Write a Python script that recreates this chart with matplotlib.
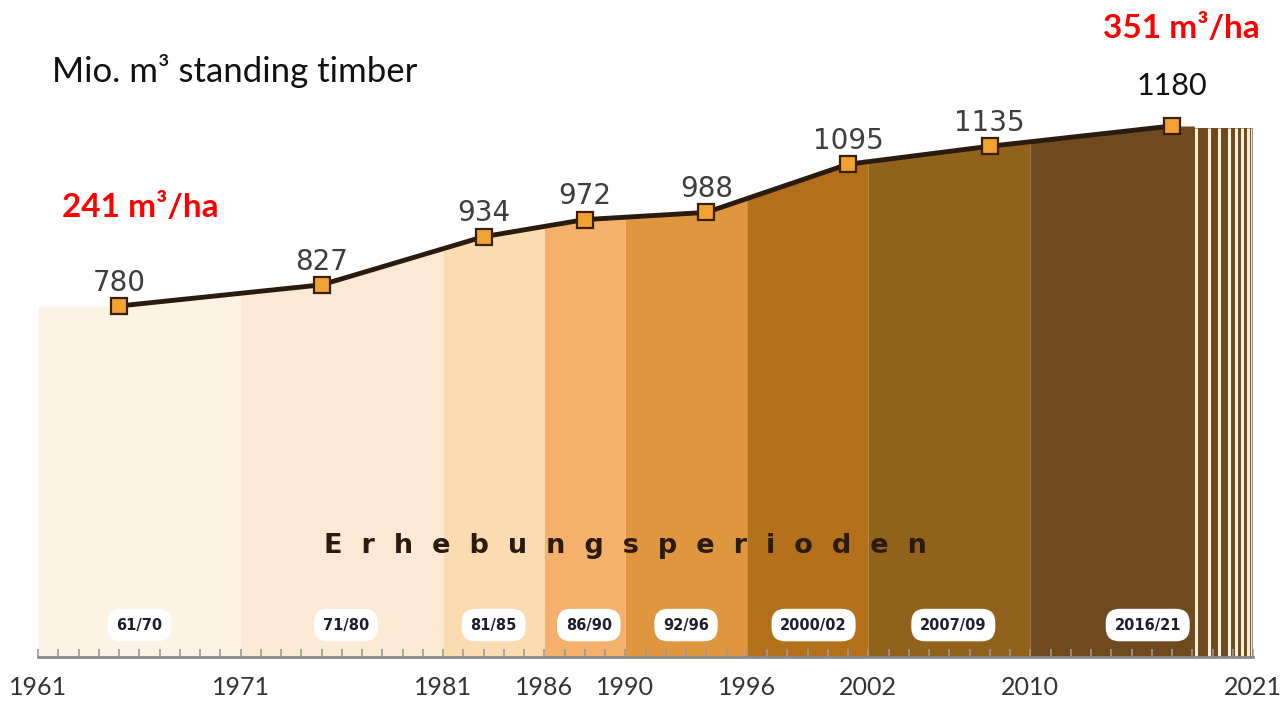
import numpy as np
import matplotlib
matplotlib.use("Agg")
import matplotlib.pyplot as plt

# ---------------- data ----------------
survey_years = [1965, 1975, 1983, 1988, 1994, 2001, 2008, 2017]
volumes = [780, 827, 934, 972, 988, 1095, 1135, 1180]

band_edges = [1961, 1971, 1981, 1986, 1990, 1996, 2002, 2010, 2018.1]
band_colors = ["#FDF3E5", "#FCE9D3", "#FBDCB1", "#F5B16C", "#E0963F",
               "#B46F1B", "#916219", "#6F4A1F"]
period_labels = ["61/70", "71/80", "81/85", "86/90", "92/96",
                 "2000/02", "2007/09", "2016/21"]
period_label_x = [1966, 1976.2, 1983.5, 1988.2, 1993, 1999.3, 2006.2, 2015.8]

stripe_x = [2018.2, 2018.85, 2019.33, 2019.8, 2020.17, 2020.48, 2020.73, 2020.95]

tick_years = [1961, 1971, 1981, 1986, 1990, 1996, 2002, 2010, 2021]

# ---------------- figure ----------------
W, H = 1283, 703
fig = plt.figure(figsize=(W / 100, H / 100), dpi=100)
fig.patch.set_facecolor("white")
ax = fig.add_axes([38 / W, 46 / H, 1215 / W, 657 / H])
ax.set_xlim(1961, 2021)
ax.set_ylim(0, 1460)
ax.set_facecolor("white")

# period bands, top follows the line
for (a, b), c in zip(zip(band_edges[:-1], band_edges[1:]), band_colors):
    xs = np.linspace(a, b, 80)
    ys = np.interp(xs, survey_years, volumes)
    ax.fill_between(xs, 0, ys, color=c, lw=0, zorder=1)

# striped tail
top_tail = np.interp(band_edges[-1], survey_years, volumes)
ax.fill_between([band_edges[-1], 2021], 0, top_tail - 5, color=band_colors[-1], lw=0, zorder=1)
ax.vlines(stripe_x, 0, top_tail - 5, color="#FBF0DC", lw=2.2, zorder=2)
ax.vlines([2021], 0, top_tail - 5, color="#8a8070", lw=2.0, zorder=2)

# line with markers
ax.plot(survey_years, volumes, color="#2A1B10", lw=3.5, zorder=5,
        marker="s", ms=12, mfc="#F2A232", mec="#3A1E08", mew=1.6)

for x, v in zip(survey_years[:-1], volumes[:-1]):
    ax.annotate(str(v), (x, v), xytext=(0, 11), textcoords="offset points",
                ha="center", va="baseline", fontsize=20, color="#3E3E3E",
                family="DejaVu Sans", zorder=6)
ax.annotate(str(volumes[-1]), (survey_years[-1], volumes[-1]), xytext=(0, 22.5),
            textcoords="offset points", ha="center", va="baseline", fontsize=22,
            color="#111111", family="Lato", zorder=6)

# period pills
for lab, x in zip(period_labels, period_label_x):
    ax.text(x, 71, lab, ha="center", va="center", fontsize=10.5, fontweight="bold",
            color="#1E1E30", family="DejaVu Sans", zorder=6,
            bbox=dict(boxstyle="round,pad=0.6,rounding_size=0.95", fc="white", ec="none"))

ax.text(1990.0, 247, "E  r  h  e  b  u  n  g  s  p  e  r  i  o  d  e  n",
        ha="center", va="center", fontsize=19.5, fontweight="bold",
        color="#2A1A10", family="DejaVu Sans", zorder=6)

# axes styling
for s in ["top", "left", "right"]:
    ax.spines[s].set_visible(False)
ax.spines["bottom"].set_color("#8A8A8A")
ax.spines["bottom"].set_linewidth(2)
ax.spines["bottom"].set_zorder(7)
ax.set_yticks([])
ax.set_xticks(tick_years)
ax.set_xticklabels([str(t) for t in tick_years], family="Lato", fontsize=18, color="#333333")
ax.set_xticks(np.arange(1961, 2022, 1), minor=True)
ax.tick_params(axis="x", which="both", direction="in", length=6, width=1.2,
               color="#9A9A9A", pad=14)

# headings
fig.text(52 / W, 1 - 82 / H, "Mio. m³ standing timber", fontsize=25, family="Lato",
         color="#111111", va="baseline", ha="left")
fig.text(62 / W, 1 - 217 / H, "241 m³/ha", fontsize=24, family="Lato", fontweight="bold",
         color="#FF0000", va="baseline", ha="left")
fig.text(1103 / W, 1 - 38 / H, "351 m³/ha", fontsize=24, family="Lato", fontweight="bold",
         color="#FF0000", va="baseline", ha="left")

fig.savefig("out.png", dpi=100, facecolor="white")
